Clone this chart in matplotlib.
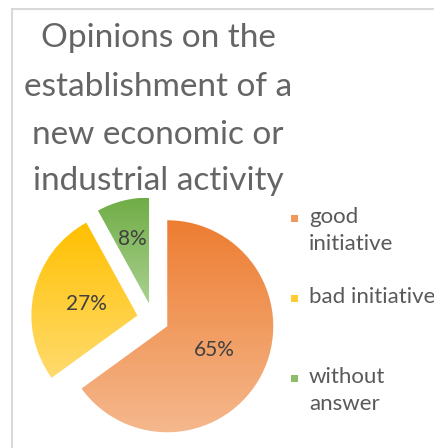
import numpy as np
import matplotlib
matplotlib.use("Agg")
import matplotlib.pyplot as plt
from matplotlib.colors import LinearSegmentedColormap

# ---- data ----
title_lines = ["Opinions on the", "establishment of a", "new economic or", "industrial activity"]
categories = ["good\ninitiative", "bad initiative", "without\nanswer"]
values = [65, 27, 8]
top_colors = ["#ED7D31", "#FFC000", "#70AD47"]
bottom_colors = ["#F5B88D", "#FFDB6E", "#AAD18F"]

W, H = 435, 448
fig = plt.figure(figsize=(W / 100, H / 100), dpi=100)
ax = fig.add_axes([0, 0, 1, 1])
ax.set_xlim(0, W)
ax.set_ylim(0, H)
ax.set_aspect("equal")
ax.axis("off")

FONT = ["Lato", "DejaVu Sans"]

# frame
ax.plot([12, 12, W], [0, H - 9, H - 9], color="#D9D9D9", lw=1.5, solid_joinstyle="miter")

# title
title_y = [H - 47, H - 96, H - 144, H - 190]
for line, y in zip(title_lines, title_y):
    ax.text(158, y, line, ha="center", va="baseline", fontsize=24,
            color="#656565", family=FONT)

# pie
R = 106
center = (153, H - 319)
wedges, _ = ax.pie(values, startangle=90, counterclock=False, radius=R,
                   center=center, explode=[16] * 3,
                   wedgeprops=dict(facecolor="none", edgecolor="none"))
ax.set_xlim(0, W)
ax.set_ylim(0, H)

label_dist = [0.50, 0.49, 0.63]
for w, v, tc, bc, d in zip(wedges, values, top_colors, bottom_colors, label_dist):
    path = w.get_path()
    verts = path.vertices
    x0, x1 = verts[:, 0].min(), verts[:, 0].max()
    y0, y1 = verts[:, 1].min(), verts[:, 1].max()
    cmap = LinearSegmentedColormap.from_list("g", [bc, tc])
    grad = np.linspace(0, 1, 256).reshape(-1, 1)
    im = ax.imshow(grad, cmap=cmap, extent=[x0, x1, y0, y1], origin="lower",
                   aspect="auto", zorder=1, interpolation="bilinear")
    im.set_clip_path(w)
    th = np.deg2rad((w.theta1 + w.theta2) / 2)
    cx, cy = w.center
    ax.text(cx + d * R * np.cos(th), cy + d * R * np.sin(th), f"{v}%",
            ha="center", va="center", fontsize=15, color="#404040",
            family=FONT, zorder=3)

ax.set_xlim(0, W)
ax.set_ylim(0, H)

# legend
leg_y = [H - 218, H - 298, H - 378]
for cat, y, tc, bc in zip(categories, leg_y, top_colors, bottom_colors):
    ax.add_patch(plt.Rectangle((291, y - 4), 7.5, 7.5, facecolor=tc, edgecolor="none", alpha=0.8))
    ax.text(309, y + 11, cat, ha="left", va="top", fontsize=16, color="#595959",
            family=FONT, linespacing=1.45)

fig.savefig("out.png", dpi=100)
